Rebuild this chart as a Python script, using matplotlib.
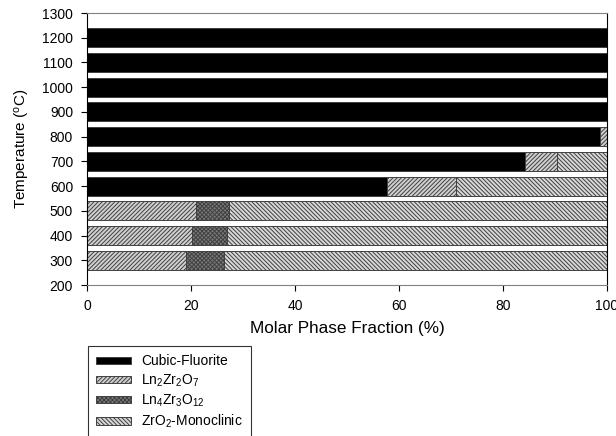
import matplotlib
matplotlib.use("Agg")
import matplotlib.pyplot as plt

plt.rcParams['font.family'] = ['Liberation Sans', 'DejaVu Sans']
plt.rcParams['mathtext.fontset'] = 'custom'
plt.rcParams['mathtext.rm'] = 'Liberation Sans'
plt.rcParams['mathtext.it'] = 'Liberation Sans'
plt.rcParams['mathtext.default'] = 'regular'
plt.rcParams['hatch.linewidth'] = 0.7

temps = [300, 400, 500, 600, 700, 800, 900, 1000, 1100, 1200]
cubic = [0, 0, 0, 57.6, 84.2, 98.6, 100, 100, 100, 100]
ln2zr2o7 = [19.1, 20.2, 21.0, 13.4, 6.1, 1.4, 0, 0, 0, 0]
ln4zr3o12 = [7.2, 6.8, 6.4, 0, 0, 0, 0, 0, 0, 0]
zro2 = [73.7, 73.0, 72.6, 29.0, 9.7, 0, 0, 0, 0, 0]

labels = ['Cubic-Fluorite', 'Ln$_2$Zr$_2$O$_7$', 'Ln$_4$Zr$_3$O$_{12}$', 'ZrO$_2$-Monoclinic']
series = [cubic, ln2zr2o7, ln4zr3o12, zro2]
faces = ['#000000', '#d0d0d0', '#7a7a7a', '#d8d8d8']
hatches = [None, '////////', 'xxxxxxxx', '\\\\\\\\\\\\\\\\']

fig = plt.figure(figsize=(6.16, 4.36), dpi=100)
ax = fig.add_axes([87/616, 1-285/436, (607-87)/616, (285-13)/436])

left = [0]*len(temps)
handles = []
for vals, lab, fc, h in zip(series, labels, faces, hatches):
    b = ax.barh(temps, vals, left=left, height=77, color=fc, edgecolor='#404040',
                linewidth=0.7, hatch=h, label=lab)
    handles.append(b)
    left = [l + v for l, v in zip(left, vals)]

ax.set_xlim(0, 100)
ax.set_ylim(200, 1300)
ax.set_xticks(range(0, 101, 20))
ax.set_yticks(range(200, 1301, 100))
ax.tick_params(axis='both', labelsize=10, length=4, width=0.8, direction='out', pad=6)
for s in ['left', 'right']:
    ax.spines[s].set_color('black')
for s in ['top', 'bottom']:
    ax.spines[s].set_color('#808080')
ax.set_xlabel('Molar Phase Fraction (%)', fontsize=12.3, labelpad=6)
ax.set_ylabel('Temperature ($^o$C)', fontsize=11, labelpad=7)

leg = fig.legend(handles=handles, labels=labels, loc='upper left',
                 bbox_to_anchor=(87.5/616, 1-346/436), fontsize=10,
                 frameon=True, fancybox=False, edgecolor='black',
                 handlelength=2.5, handleheight=0.45, handletextpad=0.75,
                 labelspacing=0.28, borderpad=0.6, borderaxespad=0)
leg.get_frame().set_linewidth(0.8)

fig.savefig('out.png', dpi=100)
